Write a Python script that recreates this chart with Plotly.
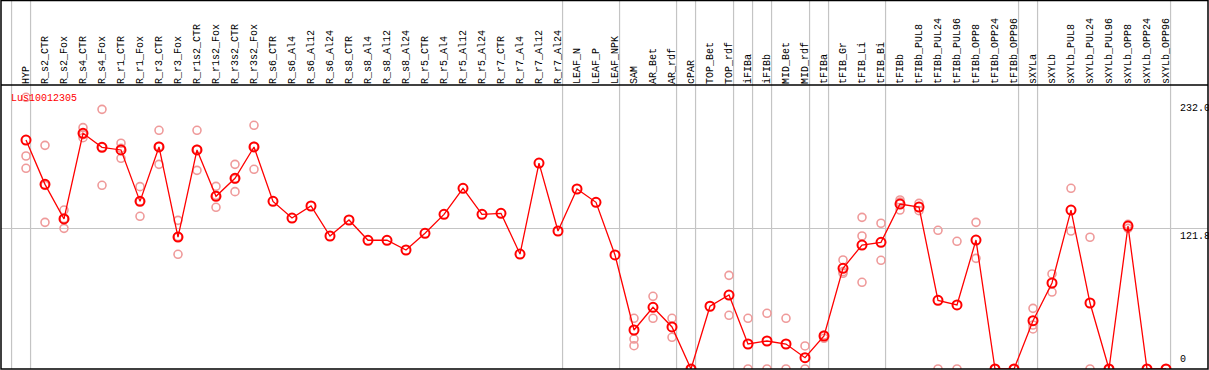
import plotly.graph_objects as go

# ---------------- data ----------------
categories = [
    "HYP", "R_s2_CTR", "R_s2_Fox", "R_s4_CTR", "R_s4_Fox", "R_r1_CTR", "R_r1_Fox",
    "R_r3_CTR", "R_r3_Fox", "R_r1s2_CTR", "R_r1s2_Fox", "R_r3s2_CTR", "R_r3s2_Fox",
    "R_s6_CTR", "R_s6_Al4", "R_s6_Al12", "R_s6_Al24", "R_s8_CTR", "R_s8_Al4",
    "R_s8_Al12", "R_s8_Al24", "R_r5_CTR", "R_r5_Al4", "R_r5_Al12", "R_r5_Al24",
    "R_r7_CTR", "R_r7_Al4", "R_r7_Al12", "R_r7_Al24",
    "LEAF_N", "LEAF_P", "LEAF_NPK",
    "SAM", "AR_Bet", "AR_rdf",
    "cPAR",
    "TOP_Bet", "TOP_rdf",
    "iFIBa",
    "iFIBb",
    "MID_Bet", "MID_rdf",
    "tFIBa",
    "tFIB_Gr", "tFIB_Li", "tFIB_Bi",
    "tFIBb", "tFIBb_PUL8", "tFIBb_PUL24", "tFIBb_PUL96", "tFIBb_OPP8", "tFIBb_OPP24", "tFIBb_OPP96",
    "sXYLa",
    "sXYLb", "sXYLb_PUL8", "sXYLb_PUL24", "sXYLb_PUL96", "sXYLb_OPP8", "sXYLb_OPP24", "sXYLb_OPP96",
]

# last category of each sample group (group separators)
group_ends = ["HYP", "R_r7_Al24", "LEAF_NPK", "AR_rdf", "cPAR", "TOP_rdf", "iFIBa",
              "iFIBb", "MID_rdf", "tFIBa", "tFIB_Bi", "tFIBb_OPP96", "sXYLa", "sXYLb_OPP96"]

mean_values = [
    197.8, 159.5, 129.6, 203.6, 191.5, 189.2, 144.8, 191.8, 114.0, 189.2, 149.2, 164.7, 191.8,
    144.8, 130.4, 140.8, 114.9, 128.7, 111.2, 111.2, 102.8, 117.2, 133.6, 156.1, 133.6,
    134.5, 99.3, 177.9, 119.2,
    155.5, 144.0, 98.5,
    33.7, 53.3, 36.3,
    0.0,
    54.2, 63.9,
    21.6,
    24.2,
    21.6, 9.8,
    28.5,
    87.0, 107.1, 109.4,
    142.5, 139.9, 59.3, 55.3, 111.4, 0.0, 0.0,
    41.7,
    74.3, 137.3, 57.0, 0.0, 123.5, 0.0, 0.0,
]

replicates = [
    [234.7, 184.0, 173.4], [193.2, 126.7, 158.6], [137.3, 121.5, 130.0], [208.5, 199.8, 202.5],
    [224.3, 158.7, 191.5], [195.0, 182.0, 190.6], [157.5, 131.9, 145.0], [206.2, 176.8, 192.4],
    [128.4, 99.1, 114.5], [206.2, 171.6, 189.8], [157.8, 139.7, 150.1], [176.8, 153.2, 164.1],
    [210.5, 172.5, 192.4],
    [], [], [], [], [], [], [], [], [], [], [], [], [], [], [], [],
    [], [], [],
    [43.8, 25.9, 20.1], [62.8, 43.8], [43.8, 27.4],
    [0.0],
    [], [80.9, 46.4],
    [43.8, 0.0],
    [48.1, 0.0],
    [43.8, 0.0], [19.9, 0.0],
    [29.4, 26.5],
    [94.2, 84.1, 82.7], [131.0, 114.9, 74.9], [125.9, 93.9],
    [146.0, 137.3, 144.2], [143.1, 136.8], [119.8, 0.0], [110.3, 0.0], [126.7, 95.6], [0.0], [0.0],
    [52.4, 38.0, 34.6],
    [82.1, 66.5], [156.1, 119.2], [113.8, 0.0], [0.0], [124.9, 121.5], [0.0], [0.0],
]

y_ticks = [0, 121.8, 232.0]
y_tick_text = ["0", "121.8", "232.0"]
gene_label = "Lus10012305"

# ---------------- figure ----------------
W, H = 1209, 370
ML, MR, MT, MB = 1, 1, 85, 1
plot_w = W - ML - MR
plot_h = H - MT - MB
px_per_cat = 19.0
first_px = 26.0
x0 = -(first_px - ML) / px_per_cat
x1 = x0 + plot_w / px_per_cat
px_per_unit = 141.0 / 121.8
y_top = plot_h / px_per_unit
FONT = "Liberation Mono"

idx = {c: i for i, c in enumerate(categories)}

rep_x, rep_y = [], []
for c, reps in zip(categories, replicates):
    for v in reps:
        rep_x.append(idx[c])
        rep_y.append(v)

fig = go.Figure()
fig.add_trace(go.Scatter(
    x=rep_x, y=rep_y, mode="markers",
    marker=dict(symbol="circle-open", size=8, color="#ef9a9a", line=dict(width=1.6, color="#ef9a9a")),
    hoverinfo="skip", showlegend=False,
))
fig.add_trace(go.Scatter(
    x=list(range(len(categories))), y=mean_values, mode="lines+markers",
    line=dict(color="#ff0000", width=1.3),
    marker=dict(symbol="circle-open", size=9, color="#ff0000", line=dict(width=2, color="#ff0000")),
    showlegend=False,
))

top_paper = 1 + MT / plot_h
shapes = []
# group separators (full height)
for g in [-1] + [idx[c] for c in group_ends]:
    shapes.append(dict(type="line", xref="x", yref="paper", x0=g + 0.24, x1=g + 0.24,
                       y0=0, y1=top_paper, line=dict(color="#c4c4c4", width=1.2), layer="below"))
# frame and header separator
shapes.append(dict(type="rect", xref="paper", yref="paper", x0=0, x1=1, y0=0, y1=top_paper - 0.5 / plot_h,
                   line=dict(color="black", width=1.5)))
shapes.append(dict(type="line", xref="paper", yref="paper", x0=0, x1=1, y0=1, y1=1,
                   line=dict(color="black", width=1.5)))

annotations = [dict(xref="paper", yref="paper", x=(9 - ML) / plot_w, y=1 - (91 - MT) / plot_h,
                    xanchor="left", yanchor="top", text=gene_label, showarrow=False,
                    font=dict(family=FONT, size=10, color="#ff0000"))]
for v, t in zip(y_ticks, y_tick_text):
    annotations.append(dict(xref="paper", yref="y", x=(1178 - ML) / plot_w, y=v,
                            xanchor="left", yanchor="bottom" if v == 0 else "top",
                            yshift=2 if v == 0 else -1,
                            text=t, showarrow=False,
                            font=dict(family=FONT, size=10, color="black")))

fig.update_layout(
    width=W, height=H,
    margin=dict(l=ML, r=MR, t=MT, b=MB, pad=0),
    paper_bgcolor="white", plot_bgcolor="white",
    shapes=shapes, annotations=annotations,
    xaxis=dict(side="top", range=[x0, x1], tickmode="array",
               tickvals=list(range(len(categories))), ticktext=categories,
               tickangle=-90, ticks="", showgrid=False, zeroline=False, showline=False,
               tickfont=dict(family=FONT, size=10, color="black")),
    yaxis=dict(range=[0, y_top], tickmode="array", tickvals=[y_ticks[1]], showticklabels=False,
               showgrid=True, gridcolor="#c4c4c4", gridwidth=1.2, zeroline=False, showline=False),
)

fig.write_html("out.html", config={"displayModeBar": False},
               post_script="document.body.style.margin='0';document.body.style.overflow='hidden';")
